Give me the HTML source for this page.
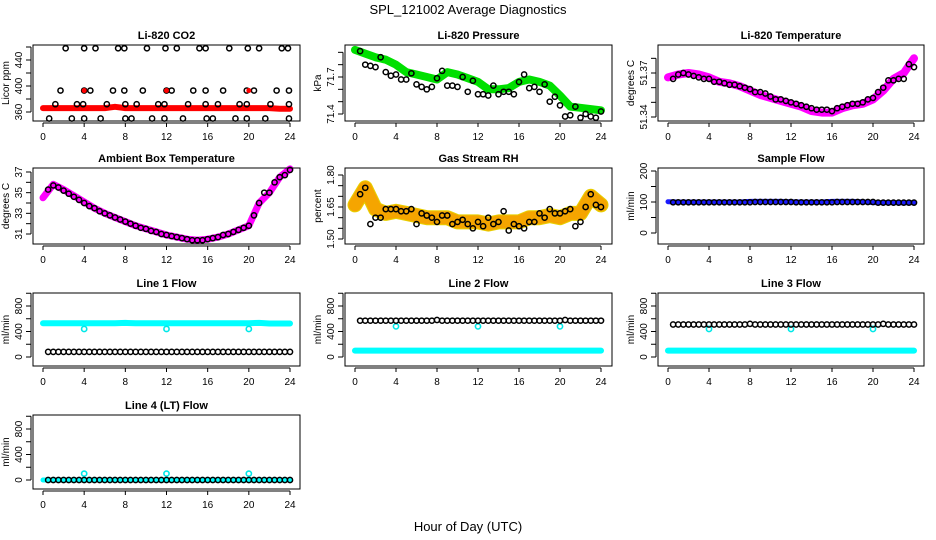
<!DOCTYPE html>
<html><head><meta charset="utf-8"><style>
html,body{margin:0;padding:0;background:#fff;}
svg{display:block;font-family:"Liberation Sans",Arial,sans-serif;}
</style></head><body>
<svg id="c" width="936" height="540" viewBox="0 0 936 540">
<text x="468" y="14" text-anchor="middle" font-size="13">SPL_121002  Average Diagnostics</text>
<text x="468" y="531" text-anchor="middle" font-size="13">Hour of Day (UTC)</text>
</svg>
<script>
const halfHours=[0.5,1,1.5,2,2.5,3,3.5,4,4.5,5,5.5,6,6.5,7,7.5,8,8.5,9,9.5,10,10.5,11,11.5,12,12.5,13,13.5,14,14.5,15,15.5,16,16.5,17,17.5,18,18.5,19,19.5,20,20.5,21,21.5,22,22.5,23,23.5,24];
const hours=[0,1,2,3,4,5,6,7,8,9,10,11,12,13,14,15,16,17,18,19,20,21,22,23,24];
const xTicks=[0,4,8,12,16,20,24];
// CO2
const co2Hours=[2.2,4,5.1,7.3,7.9,10.1,11.9,13,15.2,15.8,18.1,19.9,21,23.2,23.8,1.7,4,4.6,6.8,7.9,9.7,12,12.5,14.6,15.8,17.5,19.8,20.5,22.7,23.9,1.2,3.3,3.9,6.2,8,9.1,11.2,11.8,14.1,15.8,17,19.1,19.8,22.1,23.9,0.6,2.8,4,5.6,8,8.6,10.6,11.8,13.6,15.9,16.5,18.7,19.8,21.6,23.9];
const co2Values=[458,458,458,458,458,458,458,458,458,458,458,458,458,458,458,393,393,393,393,393,393,393,393,393,393,393,393,393,393,393,372,372,372,372,372,372,372,372,372,372,372,372,372,372,372,350,350,350,350,350,350,350,350,350,350,350,350,350,350,350];
const co2Line=[366,366,366,366,366,366,366,368,366,366,366,366,366,366,366,366,366,366,366,366,366,366,366,365,365];
const co2RedHours=[4,12,20];
const co2RedValues=[393,393,393];
// Ambient
const ambLine=[34.5,35.8,35.3,34.7,34.1,33.5,33.0,32.6,32.2,31.8,31.5,31.2,30.9,30.7,30.5,30.4,30.5,30.7,31.0,31.4,31.8,34.0,35.0,36.5,37.3];
const ambCircles=[35.3,35.7,35.5,35.2,34.9,34.6,34.3,34.0,33.7,33.5,33.2,33.0,32.8,32.6,32.4,32.2,32.0,31.8,31.6,31.5,31.3,31.2,31.0,30.9,30.8,30.7,30.6,30.5,30.4,30.4,30.4,30.5,30.6,30.7,30.9,31.0,31.2,31.4,31.6,31.8,32.8,34.0,35.0,35.0,36.0,36.5,36.7,37.2];
// Pressure
const presLine=[71.92,71.89,71.86,71.84,71.8,71.74,71.72,71.7,71.68,71.74,71.72,71.69,71.66,71.6,71.6,71.61,71.66,71.68,71.66,71.63,71.55,71.46,71.45,71.44,71.43];
const presCircles=[71.91,71.8,71.79,71.78,71.86,71.74,71.71,71.72,71.68,71.68,71.73,71.64,71.62,71.6,71.62,71.69,71.75,71.63,71.63,71.62,71.7,71.58,71.67,71.56,71.56,71.55,71.63,71.56,71.58,71.58,71.56,71.66,71.72,71.61,71.62,71.58,71.64,71.5,71.54,71.47,71.38,71.39,71.46,71.37,71.4,71.38,71.37,71.42];
// RH
const rhLine=[1.66,1.74,1.64,1.62,1.63,1.62,1.61,1.6,1.6,1.6,1.58,1.58,1.58,1.57,1.58,1.58,1.58,1.6,1.6,1.61,1.6,1.62,1.62,1.7,1.66];
const rhCircles=[1.71,1.74,1.57,1.6,1.6,1.64,1.64,1.64,1.63,1.63,1.64,1.57,1.62,1.61,1.6,1.58,1.61,1.61,1.57,1.58,1.59,1.57,1.55,1.58,1.56,1.6,1.57,1.58,1.63,1.54,1.57,1.56,1.55,1.58,1.58,1.62,1.6,1.64,1.62,1.62,1.63,1.64,1.56,1.58,1.65,1.71,1.66,1.65];
// Li temp
const ltLine=[51.367,51.369,51.37,51.369,51.367,51.364,51.363,51.361,51.358,51.355,51.353,51.351,51.349,51.347,51.344,51.343,51.343,51.346,51.348,51.349,51.352,51.358,51.366,51.37,51.38];
const ltCircles=[51.366,51.369,51.37,51.369,51.368,51.367,51.366,51.366,51.364,51.364,51.363,51.362,51.362,51.361,51.36,51.359,51.357,51.357,51.356,51.354,51.352,51.352,51.351,51.35,51.349,51.348,51.347,51.346,51.345,51.345,51.345,51.344,51.346,51.347,51.348,51.349,51.349,51.35,51.352,51.353,51.357,51.36,51.365,51.365,51.366,51.366,51.376,51.374];
// Flows
const sampleLine=[101,100,100,100,100,100,100,100,102,102,102,102,101,100,100,100,102,102,102,101,98,98,98,97,98];
const sampleCircles=[99,99,99,99,99,99,99,99,99,99,99,99,99,99,99,99,100,100,100,100,100,100,100,100,99,99,99,99,99,99,99,99,100,100,100,100,100,100,100,100,98,98,98,98,98,98,98,98];
const l1Line=[530,530,530,530,530,530,530,530,535,530,530,530,530,530,530,530,530,530,530,530,530,535,525,525,525];
const l1Circles=[80,80,80,80,80,80,80,80,80,80,80,80,80,80,80,80,80,80,80,80,80,80,80,80,80,80,80,80,80,80,80,80,80,80,80,80,80,80,80,80,80,80,80,80,80,80,80,80];
const l1OutHours=[4,12,20], l1OutValues=[440,440,440];
const l2Line=[100,100,100,100,100,100,100,100,100,100,100,100,100,100,100,100,100,100,100,100,100,100,100,100,100];
const l2Circles=[570,570,570,570,570,570,570,570,570,570,570,570,570,570,570,580,570,570,570,570,570,570,570,570,570,570,570,570,570,570,570,570,570,570,570,570,570,570,570,570,580,570,570,570,570,570,570,570];
const l2OutHours=[4,12,20], l2OutValues=[480,480,480];
const l3Line=[100,100,100,100,100,100,100,100,100,100,100,100,100,100,100,100,100,100,100,100,100,100,100,100,100];
const l3Circles=[510,510,510,510,510,510,510,510,510,510,510,510,510,510,510,520,510,510,510,510,510,510,510,510,510,510,510,510,510,510,510,510,510,510,510,510,510,510,510,510,510,520,510,510,510,510,510,510];
const l3OutHours=[4,12,20], l3OutValues=[440,440,440];
const l4Line=[0,0,0,0,0,0,0,0,0,0,0,0,0,0,0,0,0,0,0,0,0,0,0,0,0];
const l4Circles=[0,0,0,0,0,0,0,0,0,0,0,0,0,0,0,0,0,0,0,0,0,0,0,0,0,0,0,0,0,0,0,0,0,0,0,0,0,0,0,0,0,0,0,0,0,0,0,0];
const l4OutHours=[4,12,20], l4OutValues=[100,100,100];

const NS="http://www.w3.org/2000/svg";
const svg=document.getElementById('c');
function mk(tag,attrs,parent){const e=document.createElementNS(NS,tag);for(const k in attrs)e.setAttribute(k,attrs[k]);(parent||svg).appendChild(e);return e;}
const cols=[{bl:33,br:300,x0:43,x24:290},{bl:345,br:612,x0:355,x24:601},{bl:658,br:924,x0:668,x24:914}];
const rows=[{t:45,b:121},{t:168,b:244},{t:293,b:366},{t:415,b:489}];

function panel(p){
  const c=cols[p.col],r=rows[p.row];
  const g=mk('g',{});
  
  
  const xs=h=>c.x0+(h/24)*(c.x24-c.x0);
  const ys=v=>p.p1+(v-p.v1)*(p.p2-p.p1)/(p.v2-p.v1);
  const t=mk('text',{x:(c.bl+c.br)/2,y:r.t-6,'text-anchor':'middle','font-size':11,'font-weight':'bold'},g);
  t.textContent=p.title;
  
  
  const data=mk('g',{},g);
  
  
  if(p.line){
    const pts=p.line.map((v,i)=>xs(hours[i]).toFixed(1)+','+ys(v).toFixed(1)).join(' ');
    if(p.lineBorder){const b=mk('polyline',{points:pts,fill:'none',stroke:p.lineBorder,'stroke-width':p.lw+2,'stroke-linejoin':'round','stroke-linecap':'round'},data);
      
      }
    const l=mk('polyline',{points:pts,fill:'none',stroke:p.lineColor,'stroke-width':p.lw,'stroke-linejoin':'round','stroke-linecap':'round'},data);
    
    
  }
  if(p.outH){p.outH.forEach((h,i)=>{const o=mk('circle',{cx:xs(h),cy:ys(p.outV[i]),r:2.6,fill:'none',stroke:p.outColor,'stroke-width':1.6},data);
    
    });}
  const ch=p.cH||halfHours;
  p.circles.forEach((v,i)=>{const o=mk('circle',{cx:xs(ch[i]),cy:ys(v),r:2.6,fill:'none',stroke:'#000','stroke-width':1.5},data);
    
    });
  if(p.redH){p.redH.forEach((h,i)=>{const o=mk('circle',{cx:xs(h),cy:ys(p.redV[i]),r:2,fill:'#f00',stroke:'#f00'},data);
    
    });}
  const box=mk('rect',{x:c.bl,y:r.t,width:c.br-c.bl,height:r.b-r.t,fill:'none',stroke:'#000','stroke-width':1},g);
  
  
  // x axis
  const xa=mk('g',{},g);
  
  
  mk('line',{x1:xs(0),x2:xs(24),y1:r.b+2,y2:r.b+2,stroke:'#000'},xa);
  xTicks.forEach(h=>{mk('line',{x1:xs(h),x2:xs(h),y1:r.b+2,y2:r.b+6,stroke:'#000'},xa);
    const tl=mk('text',{x:xs(h),y:r.b+19,'text-anchor':'middle','font-size':10},xa);tl.textContent=h;
    
    });
  // y axis
  const ya=mk('g',{},g);
  
  
  const yt=p.yTicks;
  mk('line',{x1:c.bl-2,x2:c.bl-2,y1:ys(yt[0]),y2:ys(yt[yt.length-1]),stroke:'#000'},ya);
  yt.forEach(v=>mk('line',{x1:c.bl-7,x2:c.bl-2,y1:ys(v),y2:ys(v),stroke:'#000'},ya));
  p.yLabels.forEach((v,i)=>{const y=ys(v),x=c.bl-11;
    const tl=mk('text',{x:x,y:y,'text-anchor':'middle','font-size':10,transform:`rotate(-90 ${x} ${y})`},ya);tl.textContent=p.yLabelText[i];
    
    });
  const yl=(r.t+r.b)/2,xl=c.bl-24;
  const ylab=mk('text',{x:xl,y:yl,'text-anchor':'middle','font-size':10,transform:`rotate(-90 ${xl} ${yl})`},g);
  ylab.textContent=p.ylab;
  
  
}
const flowTicks=[0,200,400,600,800,1000],flowLab=[0,400,800],flowLabT=['0','400','800'];
panel({name:'co2-panel',col:0,row:0,title:'Li-820 CO2',ylab:'Licor ppm',v1:360,p1:112,v2:440,p2:60,yTicks:[360,380,400,420,440,460],yLabels:[360,400,440],yLabelText:['360','400','440'],line:co2Line,lineColor:'#f00',lw:6,circles:co2Values,cH:co2Hours,redH:co2RedHours,redV:co2RedValues});
panel({name:'pressure-panel',col:1,row:0,title:'Li-820 Pressure',ylab:'kPa',v1:71.7,p1:77,v2:71.4,p2:114,yTicks:[71.4,71.5,71.6,71.7,71.8,71.9],yLabels:[71.4,71.7],yLabelText:['71.4','71.7'],line:presLine,lineColor:'#00e000',lw:8,circles:presCircles});
panel({name:'li820-temperature-panel',col:2,row:0,title:'Li-820 Temperature',ylab:'degrees C',v1:51.37,p1:73,v2:51.34,p2:117,yTicks:[51.34,51.35,51.36,51.37,51.38],yLabels:[51.34,51.37],yLabelText:['51.34','51.37'],line:ltLine,lineColor:'#f0f',lw:8,circles:ltCircles});
panel({name:'ambient-temperature-panel',col:0,row:1,title:'Ambient Box Temperature',ylab:'degrees C',v1:37,p1:172,v2:31,p2:234,yTicks:[31,32,33,34,35,36,37],yLabels:[31,33,35,37],yLabelText:['31','33','35','37'],line:ambLine,lineColor:'#f0f',lw:7,circles:ambCircles});
panel({name:'gas-rh-panel',col:1,row:1,title:'Gas Stream RH',ylab:'percent',v1:1.80,p1:175,v2:1.50,p2:239,yTicks:[1.5,1.55,1.6,1.65,1.7,1.75,1.8],yLabels:[1.5,1.65,1.8],yLabelText:['1.50','1.65','1.80'],line:rhLine,lineColor:'#f5a500',lineBorder:'#e8d000',lw:13,circles:rhCircles});
panel({name:'sample-flow-panel',col:2,row:1,title:'Sample Flow',ylab:'ml/min',v1:200,p1:171,v2:0,p2:233,yTicks:[0,50,100,150,200],yLabels:[0,100,200],yLabelText:['0','100','200'],line:sampleLine,lineColor:'#1a1aff',lw:5,circles:sampleCircles});
panel({name:'line1-flow-panel',col:0,row:2,title:'Line 1 Flow',ylab:'ml/min',v1:0,p1:357,v2:800,p2:306,yTicks:flowTicks,yLabels:flowLab,yLabelText:flowLabT,line:l1Line,lineColor:'#00ffff',lw:6,circles:l1Circles,outH:l1OutHours,outV:l1OutValues,outColor:'#00e8e8'});
panel({name:'line2-flow-panel',col:1,row:2,title:'Line 2 Flow',ylab:'ml/min',v1:0,p1:357,v2:800,p2:306,yTicks:flowTicks,yLabels:flowLab,yLabelText:flowLabT,line:l2Line,lineColor:'#00ffff',lw:6,circles:l2Circles,outH:l2OutHours,outV:l2OutValues,outColor:'#00e8e8'});
panel({name:'line3-flow-panel',col:2,row:2,title:'Line 3 Flow',ylab:'ml/min',v1:0,p1:357,v2:800,p2:306,yTicks:flowTicks,yLabels:flowLab,yLabelText:flowLabT,line:l3Line,lineColor:'#00ffff',lw:6,circles:l3Circles,outH:l3OutHours,outV:l3OutValues,outColor:'#00e8e8'});
panel({name:'line4-flow-panel',col:0,row:3,title:'Line 4 (LT) Flow',ylab:'ml/min',v1:0,p1:480,v2:800,p2:429,yTicks:flowTicks,yLabels:flowLab,yLabelText:flowLabT,line:l4Line,lineColor:'#00ffff',lw:5,circles:l4Circles,outH:l4OutHours,outV:l4OutValues,outColor:'#00e8e8'});
</script>
</body></html>
